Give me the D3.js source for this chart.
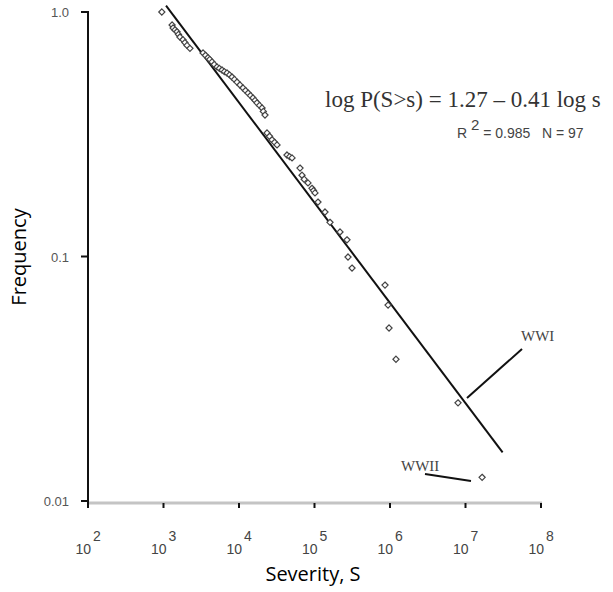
<!DOCTYPE html>
<html>
<head>
<meta charset="utf-8">
<script src="https://cdnjs.cloudflare.com/ajax/libs/d3/7.8.5/d3.min.js"></script>
<style>
  body { margin: 0; background: #fff; }
</style>
</head>
<body>
<script>
// war severity vs cumulative frequency
var severity = [950, 1300, 1340, 1420, 1510, 1580, 1650, 1810, 1920, 2050, 2240,
  3340, 3600, 3880, 4100, 4390, 4700, 5110, 5500, 5960, 6400, 6940, 7500, 8080, 8700,
  9410, 10300, 11300, 12200, 13200, 14200, 15300, 16300, 17300, 18700, 20200, 21000,
  22100, 23500, 25400, 27400, 29600, 31900, 43200, 46800, 50400, 64300, 68300, 73000,
  82000, 92600, 97000, 101500, 111200, 137700, 160400, 217700, 269300, 277900, 314000,
  859000, 942000, 971000, 1200000, 7960000, 16600000];
var frequency = [1.0, 0.885, 0.86, 0.845, 0.83, 0.81, 0.79, 0.77, 0.75, 0.73, 0.71,
  0.68, 0.665, 0.65, 0.64, 0.625, 0.61, 0.596, 0.588, 0.579, 0.57, 0.563, 0.553, 0.542, 0.53,
  0.517, 0.503, 0.489, 0.477, 0.466, 0.455, 0.445, 0.435, 0.425, 0.415, 0.405, 0.392,
  0.379, 0.32, 0.31, 0.30, 0.293, 0.286, 0.26, 0.256, 0.253, 0.23, 0.215, 0.207,
  0.20, 0.19, 0.186, 0.182, 0.167, 0.152, 0.138, 0.126, 0.117, 0.0995, 0.0897,
  0.0764, 0.0633, 0.051, 0.038, 0.0252, 0.0125];

var xTicks = [1e2, 1e3, 1e4, 1e5, 1e6, 1e7, 1e8];
var xExp = ["2", "3", "4", "5", "6", "7", "8"];
var yTicks = [1.0, 0.1, 0.01];
var yLabels = ["1.0", "0.1", "0.01"];

// fitted line: log P = 1.27 - 0.41 log s
var fitA = 1.27, fitB = 0.41;
var fitRange = [1080, 3.1e7];

var width = 613, height = 592;
var svg = d3.select("body").append("svg")
  .attr("width", width).attr("height", height);

var x = d3.scaleLog().domain([1e2, 1e8]).range([88, 541]);
var y = d3.scaleLog().domain([0.01, 1]).range([501, 12]);

// x axis: grey line, small black ticks
svg.append("line")
  .attr("x1", 88).attr("x2", 542).attr("y1", 503).attr("y2", 503)
  .attr("stroke", "#c4c4c4").attr("stroke-width", 3);
svg.selectAll(".xt").data(xTicks).enter().append("line")
  .attr("x1", function(d) { return x(d); }).attr("x2", function(d) { return x(d); })
  .attr("y1", 503).attr("y2", 508)
  .attr("stroke", "#111").attr("stroke-width", 2);

var xl = svg.selectAll(".xl").data(xTicks).enter().append("g")
  .attr("transform", function(d) { return "translate(" + x(d) + ",0)"; })
  .style("font-family", "'Liberation Sans', Arial, sans-serif")
  .style("fill", "#444");
xl.append("text").attr("x", 3).attr("y", 554).attr("text-anchor", "end")
  .style("font-size", "14px").text("10");
xl.append("text").attr("x", 5).attr("y", 541)
  .style("font-size", "14px").text(function(d, i) { return xExp[i]; });

// y axis
svg.append("line")
  .attr("x1", 88).attr("x2", 88).attr("y1", 11).attr("y2", 503)
  .attr("stroke", "#111").attr("stroke-width", 2);
svg.selectAll(".yt").data(yTicks).enter().append("line")
  .attr("x1", 81).attr("x2", 88)
  .attr("y1", function(d) { return y(d); }).attr("y2", function(d) { return y(d); })
  .attr("stroke", "#111").attr("stroke-width", 2);
svg.selectAll(".yl").data(yTicks).enter().append("text")
  .attr("x", 69).attr("y", function(d) { return y(d) + 5; })
  .attr("text-anchor", "end")
  .style("font-family", "'Liberation Sans', Arial, sans-serif")
  .style("font-size", "13px").style("fill", "#555")
  .text(function(d, i) { return yLabels[i]; });

// axis titles
svg.append("text").attr("x", 313).attr("y", 581).attr("text-anchor", "middle")
  .style("font-family", "'Open Sans', sans-serif").style("font-size", "20px")
  .text("Severity, S");
svg.append("text").attr("transform", "translate(26,257) rotate(-90)")
  .attr("text-anchor", "middle")
  .style("font-family", "'Open Sans', sans-serif").style("font-size", "20px")
  .text("Frequency");

// fit line
var line = d3.line()
  .x(function(d) { return x(d); })
  .y(function(d) { return y(Math.pow(10, fitA - fitB * Math.log10(d))); });
svg.append("path").datum(fitRange).attr("d", line)
  .attr("fill", "none").attr("stroke", "#111").attr("stroke-width", 2);

// points
var diamond = d3.symbol().type(d3.symbolDiamond2).size(24);
svg.selectAll(".pt").data(severity).enter().append("path")
  .attr("d", diamond)
  .attr("transform", function(d, i) { return "translate(" + x(d) + "," + y(frequency[i]) + ")"; })
  .attr("fill", "#fff").attr("stroke", "#444").attr("stroke-width", 1.2);

// equation + stats
svg.append("text").attr("x", 325).attr("y", 107)
  .style("font-family", "'Liberation Serif', 'Times New Roman', serif")
  .style("font-size", "23px").style("fill", "#333")
  .text("log P(S>s) = 1.27 \u2013 0.41 log s");
var st = svg.append("text").attr("x", 457).attr("y", 138)
  .attr("xml:space", "preserve")
  .style("font-family", "'Liberation Sans', Arial, sans-serif")
  .style("font-size", "14px").style("fill", "#444");
st.append("tspan").text("R ");
st.append("tspan").attr("dy", -8).style("font-size", "15px").text("2");
st.append("tspan").attr("dy", 8).text(" = 0.985   N = 97");

// WWI / WWII annotations
var serif = "'Liberation Serif', 'Times New Roman', serif";
svg.append("text").attr("x", 521).attr("y", 341)
  .style("font-family", serif).style("font-size", "15px").style("fill", "#444")
  .text("WWI");
svg.append("line").attr("x1", 522).attr("y1", 349).attr("x2", 467).attr("y2", 398)
  .attr("stroke", "#111").attr("stroke-width", 2);
svg.append("text").attr("x", 401).attr("y", 471)
  .style("font-family", serif).style("font-size", "15px").style("fill", "#444")
  .text("WWII");
svg.append("line").attr("x1", 425).attr("y1", 474).attr("x2", 471).attr("y2", 481)
  .attr("stroke", "#111").attr("stroke-width", 2);
</script>
</body>
</html>
